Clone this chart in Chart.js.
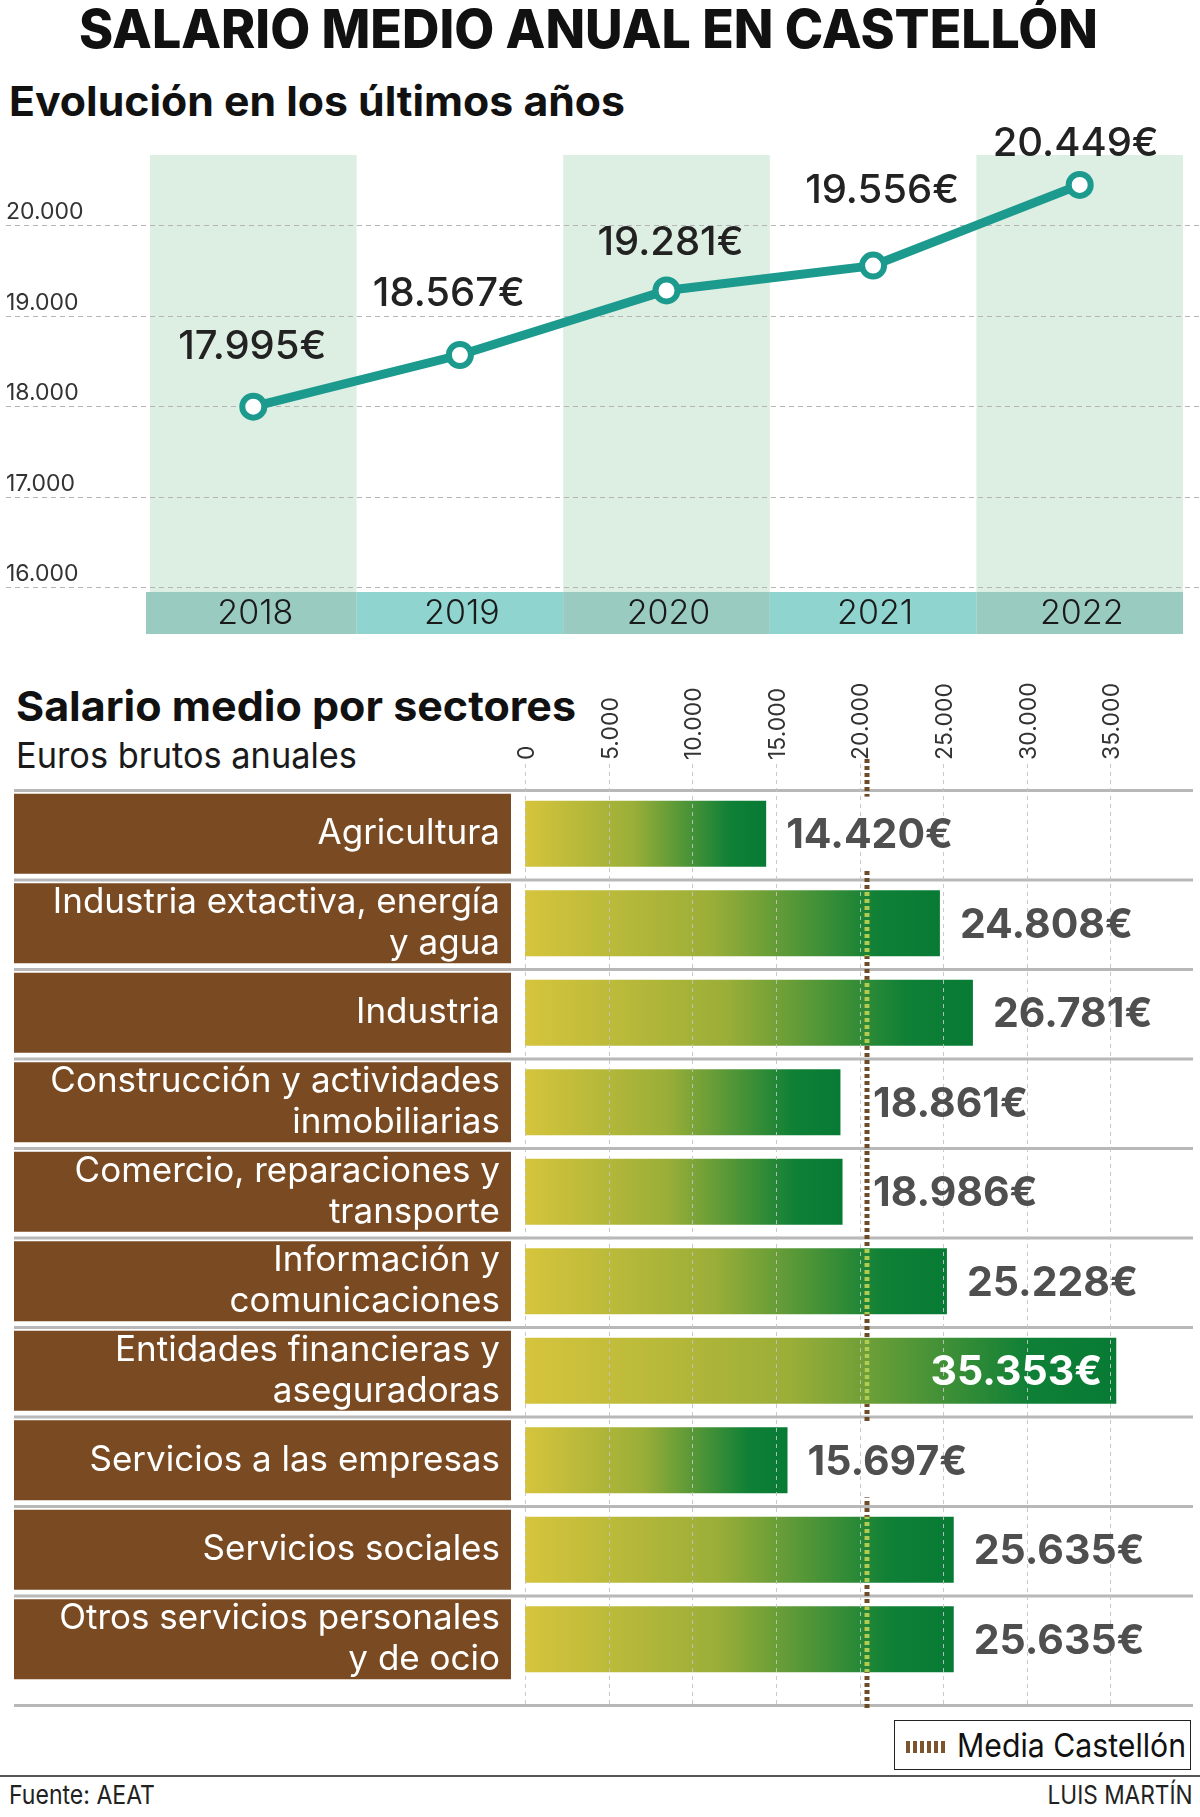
<!DOCTYPE html>
<html lang="es">
<head>
<meta charset="utf-8">
<title>Salario medio anual en Castellón</title>
<script src="https://cdn.jsdelivr.net/npm/chart.js@4.4.1/dist/chart.umd.min.js"></script>
<style>
  html, body { margin: 0; padding: 0; background: #fff; }
  body { width: 1200px; height: 1817px; position: relative; overflow: hidden; font-family: Inter, "Noto Sans", sans-serif; color: #111; }
  .txt { position: absolute; line-height: 1; white-space: nowrap; transform-origin: left center; }
  .txt.right { transform-origin: right center; }
  canvas { position: absolute; left: 0; }
  #lineChart { top: 120px; }
  #barChart { top: 660px; }
  #legend { position: absolute; left: 894px; top: 1720px; width: 297px; height: 50px; border: 1.5px solid #222; box-sizing: border-box; background: #fff; }
  #legend .swatch { position: absolute; left: 11px; top: 20px; width: 40px; height: 12px;
    background: repeating-linear-gradient(90deg, #7a5530 0 4px, transparent 4px 7px); }
  #rule { position: absolute; left: 0; top: 1775px; width: 1200px; height: 2px; background: #555; }
</style>
</head>
<body>
<div class="txt" id="title" data-w="1019" style="left:79px; top:2px; font-size:54px; font-weight:800;">SALARIO MEDIO ANUAL EN CASTELLÓN</div>
<div class="txt" id="sub1" data-w="616" style="left:9px; top:81px; font-size:41px; font-weight:700;">Evolución en los últimos años</div>
<div class="txt" id="sub2" data-w="560" style="left:16px; top:686px; font-size:41px; font-weight:700;">Salario medio por sectores</div>
<div class="txt" id="sub3" data-w="341" style="left:16px; top:737px; font-size:36px; font-weight:400; color:#1a1a1a;">Euros brutos anuales</div>

<canvas id="lineChart" width="1200" height="530"></canvas>
<canvas id="barChart" width="1200" height="1060"></canvas>

<div id="legend"><div class="swatch"></div><div class="txt" data-w="229" style="left:62px; top:8px; font-size:33px; font-weight:400;">Media Castellón</div></div>
<div id="rule"></div>
<div class="txt" data-w="146" style="left:9px; top:1782px; font-size:26px; font-weight:400; color:#222;">Fuente: AEAT</div>
<div class="txt right" data-w="145" style="right:7px; top:1782px; font-size:26px; font-weight:400; color:#222;">LUIS MARTÍN</div>

<script>
// Line chart data
const years = ['2018', '2019', '2020', '2021', '2022'];
const salaryByYear = [17995, 18567, 19281, 19556, 20449];
const yearTicks = [16000, 17000, 18000, 19000, 20000];

// Bar chart data
const sectors = [
    ['Agricultura'],
    ['Industria extactiva, energía', 'y agua'],
    ['Industria'],
    ['Construcción y actividades', 'inmobiliarias'],
    ['Comercio, reparaciones y', 'transporte'],
    ['Información y', 'comunicaciones'],
    ['Entidades financieras y', 'aseguradoras'],
    ['Servicios a las empresas'],
    ['Servicios sociales'],
    ['Otros servicios personales', 'y de ocio']
];
const sectorSalary = [14420, 24808, 26781, 18861, 18986, 25228, 35353, 15697, 25635, 25635];
const sectorTicks = [0, 5000, 10000, 15000, 20000, 25000, 30000, 35000];
const mediaCastellon = 20449;

// Format numbers with dot as thousands separator
function fmt(v) {
    return String(v).replace(/\B(?=(\d{3})+(?!\d))/g, '.');
}

// Squeeze headings to the width they take in the original
function fitTexts() {
    document.querySelectorAll('.txt[data-w]').forEach(el => {
        const w = el.getBoundingClientRect().width;
        const target = parseFloat(el.dataset.w);
        if (w > 0) el.style.transform = `scaleX(${target / w})`;
    });
}

// Bands, grid, tick labels and the year strip
const yearBandsPlugin = {
    id: 'yearBands',
    beforeDraw(chart) {
        const { ctx, chartArea, scales: { x, y } } = chart;
        const w = x.getPixelForValue(1) - x.getPixelForValue(0);
        const stripTop = chartArea.bottom + 5;
        const stripH = 42;
        ctx.save();
        years.forEach((yr, i) => {
            if (i % 2 === 0) {
                ctx.fillStyle = '#ddeee3';
                ctx.fillRect(x.getPixelForValue(i) - w / 2, chartArea.top, w, stripTop + stripH - chartArea.top);
            }
        });
        ctx.setLineDash([5, 4]);
        ctx.strokeStyle = '#b5b5b5';
        ctx.lineWidth = 1;
        yearTicks.forEach(v => {
            const py = Math.round(y.getPixelForValue(v)) + 0.5;
            ctx.beginPath();
            ctx.moveTo(6, py);
            ctx.lineTo(chart.width, py);
            ctx.stroke();
        });
        ctx.setLineDash([]);
        ctx.font = '400 23px Inter';
        ctx.fillStyle = '#333';
        ctx.textAlign = 'left';
        ctx.textBaseline = 'alphabetic';
        yearTicks.forEach(v => ctx.fillText(fmt(v), 6, y.getPixelForValue(v) - 6));

        years.forEach((yr, i) => {
            const cx = x.getPixelForValue(i);
            ctx.fillStyle = i % 2 === 0 ? '#9acbc1' : '#8fd4ce';
            ctx.fillRect(cx - w / 2 - (i === 0 ? 4 : 0), stripTop, w + (i === 0 ? 4 : 0), stripH);
            ctx.fillStyle = '#1a1a1a';
            ctx.font = '300 34px Inter';
            ctx.textAlign = 'center';
            ctx.textBaseline = 'middle';
            ctx.fillText(yr, cx + 2, stripTop + stripH / 2 + 1);
        });
        ctx.restore();
    },
    afterDatasetsDraw(chart, args, opts) {
        const { ctx } = chart;
        const meta = chart.getDatasetMeta(0);
        ctx.save();
        ctx.font = '500 40px Inter';
        ctx.fillStyle = '#222';
        ctx.textAlign = 'center';
        ctx.textBaseline = 'middle';
        meta.data.forEach((pt, i) => {
            const lift = opts.lift[i] || 58;
            ctx.fillText(fmt(salaryByYear[i]) + '€', pt.x + (opts.shift[i] || 0), pt.y - lift);
        });
        ctx.restore();
    }
};

new Chart(document.getElementById('lineChart'), {
    type: 'line',
    data: {
        labels: years,
        datasets: [{
            data: salaryByYear,
            borderColor: '#1b9a8d',
            borderWidth: 9,
            pointRadius: 11,
            pointBorderWidth: 6,
            pointBackgroundColor: '#fff',
            pointBorderColor: '#1b9a8d',
            tension: 0,
            clip: false
        }]
    },
    options: {
        responsive: false,
        animation: false,
        devicePixelRatio: 1,
        layout: { padding: { left: 150, right: 0, top: 35, bottom: 63 } },
        scales: {
            x: { display: false, offset: true },
            y: { display: false, min: 16000, max: 20780 }
        },
        plugins: {
            legend: { display: false },
            tooltip: { enabled: false },
            yearBands: { lift: [60, 61, 48, 75, 41], shift: [-1, -11, 4, 9, -4] }
        }
    },
    plugins: [yearBandsPlugin]
});

// Per-bar gradient, yellow at the base to deep green at the end
function barGradient(context) {
    const chart = context.chart;
    const xs = chart.scales.x;
    if (!chart.chartArea || !xs) return '#8aa83a';
    const x0 = xs.getPixelForValue(0);
    const x1 = xs.getPixelForValue(context.parsed.x);
    const g = chart.ctx.createLinearGradient(x0, 0, x1, 0);
    g.addColorStop(0, '#d6c43c');
    g.addColorStop(0.45, '#9aae38');
    g.addColorStop(0.85, '#0f8036');
    g.addColorStop(1, '#077a34');
    return g;
}

const sectorDecorPlugin = {
    id: 'sectorDecor',
    beforeDraw(chart) {
        const { ctx, chartArea, scales: { x, y } } = chart;
        const band = (chartArea.bottom - chartArea.top) / sectors.length;
        ctx.save();
        sectors.forEach((s, i) => {
            const cy = y.getPixelForValue(i);
            ctx.fillStyle = '#b8b8b8';
            ctx.fillRect(14, cy - band / 2, 1179, 3);
            ctx.fillStyle = '#7a4b23';
            ctx.fillRect(14, cy - 40, 497, 80);
        });
        ctx.fillStyle = '#b8b8b8';
        ctx.fillRect(14, chartArea.bottom + 20, 1179, 3);

        // rotated tick labels on top
        ctx.font = '400 23px Inter';
        ctx.fillStyle = '#333';
        ctx.textAlign = 'left';
        ctx.textBaseline = 'middle';
        sectorTicks.forEach(v => {
            ctx.save();
            ctx.translate(x.getPixelForValue(v) + 2, chartArea.top - 29);
            ctx.rotate(-Math.PI / 2);
            ctx.fillText(fmt(v), 0, 0);
            ctx.restore();
        });
        ctx.restore();
    },
    afterDatasetsDraw(chart) {
        const { ctx, chartArea, scales: { x } } = chart;
        const meta = chart.getDatasetMeta(0);
        const avgX = Math.round(x.getPixelForValue(mediaCastellon));
        const lineTop = chartArea.top - 30;
        const lineBottom = chartArea.bottom + 27;
        ctx.save();

        // average line: brown dashes, light green over the bars
        const drawAvg = color => {
            ctx.setLineDash([4, 3]);
            ctx.lineWidth = 5;
            ctx.strokeStyle = color;
            ctx.beginPath();
            ctx.moveTo(avgX, lineTop);
            ctx.lineTo(avgX, lineBottom);
            ctx.stroke();
        };
        drawAvg('#6e4a28');
        meta.data.forEach(bar => {
            const p = bar.getProps(['x', 'y', 'base', 'height'], true);
            ctx.save();
            ctx.beginPath();
            ctx.rect(p.base, p.y - p.height / 2, p.x - p.base, p.height);
            ctx.clip();
            drawAvg('#a9d052');
            ctx.restore();
        });
        ctx.setLineDash([]);

        // value labels
        ctx.font = '700 41px Inter';
        ctx.textBaseline = 'middle';
        const labels = meta.data.map((bar, i) => {
            const p = bar.getProps(['x', 'y', 'base', 'height'], true);
            const text = fmt(sectorSalary[i]) + '€';
            const w = ctx.measureText(text).width;
            let start = p.x + 20;
            let inside = false;
            let cover = false;
            if (start + w > chartArea.right + 5) {
                inside = true;
            } else if (start < avgX + 6 && start + w > avgX - 6) {
                if (avgX - p.x < 35) start = avgX + 6;
                else cover = true;
            }
            return { p, text, w, start, inside, cover };
        });
        labels.forEach(l => {
            if (l.cover) {
                ctx.fillStyle = '#fff';
                ctx.fillRect(l.start - 4, l.p.y - l.p.height / 2 - 4, l.w + 8, l.p.height + 8);
            }
        });

        // dashed vertical grid on top of bars
        ctx.setLineDash([4, 4]);
        ctx.lineWidth = 1;
        ctx.strokeStyle = 'rgba(195,195,195,0.9)';
        sectorTicks.forEach(v => {
            const px = Math.round(x.getPixelForValue(v)) + 0.5;
            ctx.beginPath();
            ctx.moveTo(px, chartArea.top - 25);
            ctx.lineTo(px, chartArea.bottom + 24);
            ctx.stroke();
        });
        ctx.setLineDash([]);

        labels.forEach(l => {
            if (l.inside) {
                ctx.fillStyle = '#fff';
                ctx.textAlign = 'right';
                ctx.fillText(l.text, l.p.x - 14, l.p.y + 2);
            } else {
                ctx.fillStyle = '#4f4f4f';
                ctx.textAlign = 'left';
                ctx.fillText(l.text, l.start, l.p.y + 2);
            }
        });
        ctx.restore();
    }
};

new Chart(document.getElementById('barChart'), {
    type: 'bar',
    data: {
        labels: sectors,
        datasets: [{
            data: sectorSalary,
            backgroundColor: barGradient,
            borderWidth: 0,
            barPercentage: 0.74,
            categoryPercentage: 1
        }]
    },
    options: {
        indexAxis: 'y',
        responsive: false,
        animation: false,
        devicePixelRatio: 1,
        layout: { padding: { left: 0, right: 6, top: 129, bottom: 36 } },
        scales: {
            x: { display: false, min: 0, max: 40000 },
            y: {
                grid: { display: false, drawTicks: false },
                border: { display: false },
                ticks: {
                    color: '#fff',
                    font: { family: 'Inter', size: 35, weight: '400', lineHeight: 1.16 },
                    padding: 25,
                    crossAlign: 'near'
                },
                afterFit: s => {
                    s.width = 525;
                    s.paddingTop = 0;
                    s.paddingBottom = 0;
                }
            }
        },
        plugins: {
            legend: { display: false },
            tooltip: { enabled: false }
        }
    },
    plugins: [sectorDecorPlugin]
});

fitTexts();
</script>
</body>
</html>
